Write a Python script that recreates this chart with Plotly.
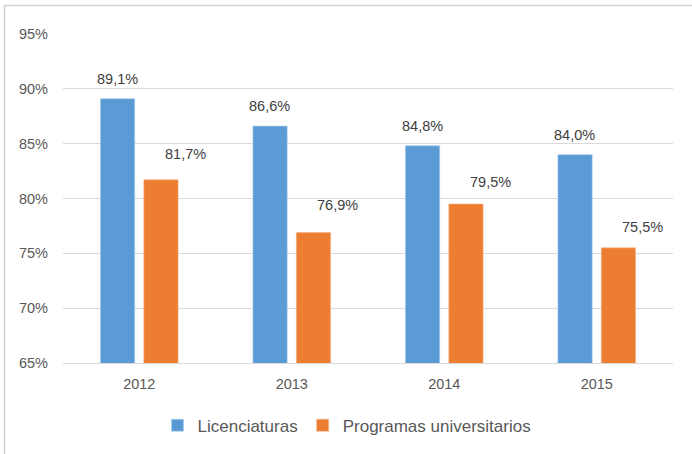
import plotly.graph_objects as go

years = ["2012", "2013", "2014", "2015"]
licenciaturas = [0.891, 0.866, 0.848, 0.840]
programas = [0.817, 0.769, 0.795, 0.755]
series_names = ["Licenciaturas", "Programas universitarios"]
y_ticks = [0.65, 0.70, 0.75, 0.80, 0.85, 0.90, 0.95]
y_tick_labels = ["65%", "70%", "75%", "80%", "85%", "90%", "95%"]

BLUE = "#5B9BD5"
ORANGE = "#ED7D31"
FONT = "Liberation Sans, Arial, sans-serif"

def pct(v):
    return f"{v*100:.1f}".replace(".", ",") + "%"

fig = go.Figure()
fig.add_trace(go.Bar(x=years, y=licenciaturas, name=series_names[0],
                     marker=dict(color=BLUE, line=dict(color="#A9CBEA", width=0.6))))
fig.add_trace(go.Bar(x=years, y=programas, name=series_names[1],
                     marker=dict(color=ORANGE, line=dict(color="#F5B48A", width=0.6))))

orange_lift = [26, 28, 22, 21]
ann = []
for i, yr in enumerate(years):
    ann.append(dict(x=i, y=licenciaturas[i], text=pct(licenciaturas[i]), showarrow=False,
                    xshift=-22, yshift=20, yanchor="middle",
                    font=dict(family=FONT, size=14.5, color="#404040")))
    ann.append(dict(x=i, y=programas[i], text=pct(programas[i]), showarrow=False,
                    xshift=46, yshift=orange_lift[i], yanchor="middle",
                    font=dict(family=FONT, size=14.5, color="#404040")))

W, H = 692, 454
L, R, T, B = 63, 19, 34, 90
pw, ph = W - L - R, H - T - B
bx = (4.5 - L) / pw
by = 1 + (T - 5.5) / ph

shapes = [
    dict(type="line", xref="paper", yref="paper", x0=bx, x1=1.2, y0=by, y1=by,
         line=dict(color="#D0D0D0", width=1.5), layer="above"),
    dict(type="line", xref="paper", yref="paper", x0=bx, x1=bx, y0=by, y1=-0.5,
         line=dict(color="#D0D0D0", width=1.5), layer="above"),
]

fig.update_layout(
    width=W, height=H,
    margin=dict(l=L, r=R, t=T, b=B),
    paper_bgcolor="white", plot_bgcolor="white",
    barmode="group", bargap=0.431, bargroupgap=0.21,
    font=dict(family=FONT, size=14.5, color="#595959"),
    annotations=ann, shapes=shapes,
    showlegend=True,
    legend=dict(orientation="h", x=0.5 - 21 / pw, xanchor="center", y=-0.187, yanchor="middle",
                font=dict(family=FONT, size=17, color="#595959"),
                itemwidth=30, tracegroupgap=0),
    xaxis=dict(type="category", range=[-0.5, len(years) - 0.5],
               showgrid=False, showline=True, linecolor="#D9D9D9", linewidth=1.3,
               ticks="", ticklabelstandoff=7,
               tickfont=dict(family=FONT, size=14.5, color="#595959")),
    yaxis=dict(range=[0.65, 0.95], tickvals=y_ticks, ticktext=y_tick_labels,
               showgrid=True, gridcolor="#D9D9D9", gridwidth=1.3, zeroline=False,
               showline=False, ticks="", ticklabelstandoff=14,
               tickfont=dict(family=FONT, size=14.5, color="#595959")),
)

fig.write_html("out.html", config={"displayModeBar": False},
               post_script="document.body.style.margin='0';")
